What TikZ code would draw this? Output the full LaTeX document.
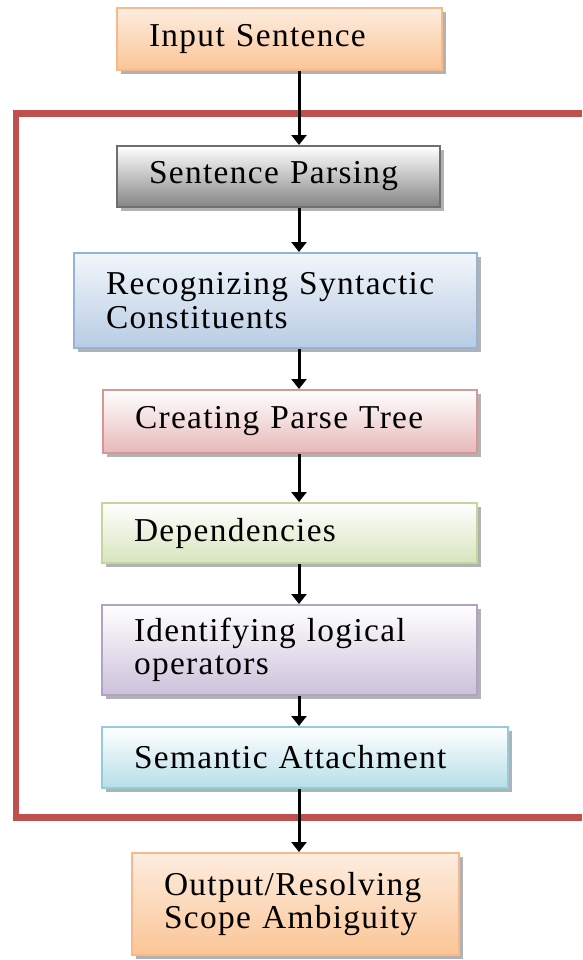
\documentclass[tikz,border=0pt]{standalone}
\usepackage{fontspec}
\setmainfont{Liberation Serif}[LetterSpace=4]
\usetikzlibrary{arrows.meta,shadows}

\definecolor{framered}{HTML}{C0504D}
\definecolor{orangetop}{HTML}{FDEDE0}
\definecolor{orangebot}{HTML}{FBC596}
\definecolor{orangeline}{HTML}{F8B98A}
\definecolor{graybot}{HTML}{858585}
\definecolor{grayline}{HTML}{6F6F6F}
\definecolor{bluetop}{HTML}{F2F6FB}
\definecolor{bluebot}{HTML}{B8CCE4}
\definecolor{blueline}{HTML}{95B3D7}
\definecolor{redbot}{HTML}{E6B9B8}
\definecolor{redline}{HTML}{D99694}
\definecolor{greenbot}{HTML}{D7E4BD}
\definecolor{greenline}{HTML}{C3D69B}
\definecolor{purplebot}{HTML}{CCC1DA}
\definecolor{purpleline}{HTML}{B3A2C7}
\definecolor{cyanbot}{HTML}{B7DEE8}
\definecolor{cyanline}{HTML}{93CDDD}

\begin{document}
\begin{tikzpicture}[x=0.02cm,y=-0.02cm,thick,
    step node/.style={rectangle,draw,line width=0.04cm,align=left,inner xsep=0.64cm,inner ysep=0pt,
        font=\fontsize{19}{19}\selectfont,
        drop shadow={shadow xshift=0.08cm,shadow yshift=-0.08cm,fill=black,opacity=0.3}},
    flow/.style={-{Triangle[width=0.3cm,length=0.2cm]},line width=0.06cm}]
    \useasboundingbox (0,0) rectangle (582,960);
    \fill[white] (0,0) rectangle (582,960);

    % red frame, open on the right
    \draw[framered,line width=0.14cm] (582,113) -- (16,113) -- (16,817) -- (582,817);

    \node[step node, draw=orangeline, top color=orangetop, bottom color=orangebot,
        text width=5.22cm, minimum height=1.24cm] at (279.5, 39) (a) {Input Sentence};
    \node[step node, draw=grayline, top color=white, bottom color=graybot,
        text width=5.18cm, minimum height=1.22cm] at (278.5, 176.5) (b) {Sentence Parsing};
    \node[step node, draw=blueline, top color=bluetop, bottom color=bluebot,
        text width=6.78cm, minimum height=1.9cm] at (275.5, 300.5) (c) {Recognizing Syntactic\\Constituents};
    \node[step node, draw=redline, top color=white, bottom color=redbot,
        text width=6.2cm, minimum height=1.26cm] at (290, 421.5) (d) {Creating Parse Tree};
    \node[step node, draw=greenline, top color=white, bottom color=greenbot,
        text width=6.22cm, minimum height=1.2cm] at (289.5, 533) (e) {Dependencies};
    \node[step node, draw=purpleline, top color=white, bottom color=purplebot,
        text width=6.22cm, minimum height=1.8cm] at (289.5, 650) (f) {Identifying logical\\operators};
    \node[step node, draw=cyanline, top color=white, bottom color=cyanbot,
        text width=6.84cm, minimum height=1.22cm] at (305, 757.5) (g) {Semantic Attachment};
    \node[step node, draw=orangeline, top color=orangetop, bottom color=orangebot,
        text width=5.26cm, minimum height=2.04cm] at (295.5, 904) (h) {Output/Resolving\\Scope Ambiguity};

    \coordinate (ax) at (299, 0);
    \path[flow]
        (a.south -| ax) edge (b.north -| ax)
        (b.south -| ax) edge (c.north -| ax)
        (c.south -| ax) edge (d.north -| ax)
        (d.south -| ax) edge (e.north -| ax)
        (e.south -| ax) edge (f.north -| ax)
        (f.south -| ax) edge (g.north -| ax)
        (g.south -| ax) edge (h.north -| ax)
        ;
\end{tikzpicture}
\end{document}
